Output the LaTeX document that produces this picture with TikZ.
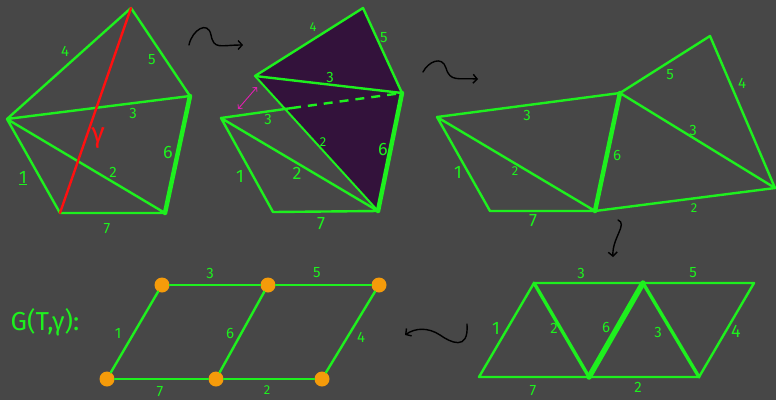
\documentclass[tikz,border=0pt]{standalone}
\usepackage{fontspec}
\setmainfont{Fira Sans}
\usetikzlibrary{arrows.meta}
\definecolor{bg}{HTML}{474747}
\definecolor{grn}{HTML}{1EF01E}
\definecolor{purp}{HTML}{33123B}
\definecolor{org}{HTML}{F59B0A}
\definecolor{mag}{HTML}{E020B0}
\definecolor{redl}{HTML}{FF1010}
\begin{document}
\begin{tikzpicture}[x=1pt,y=-1pt,
  edge/.style={draw=grn,line width=2.4pt,line join=round,line cap=round},
  thk/.style={edge,line width=4.5pt},
  mid/.style={edge,line width=3.4pt},
  lab/.style={text=grn,inner sep=0pt,font=\fontsize{15}{15}\selectfont},
  sml/.style={lab,font=\fontsize{13}{13}\selectfont},
  big/.style={lab,font=\fontsize{18}{18}\selectfont},
  vtx/.style={circle,fill=org,minimum size=15pt,inner sep=0pt},
  squig/.style={draw=black,line width=1.4pt,line cap=round,-{Straight Barb[length=4pt,width=9pt,line width=1.4pt]}}]
\fill[bg] (0,0) rectangle (776,400);
\useasboundingbox (0,0) rectangle (776,400);

% ---------- panel 1 ----------
\coordinate (a1) at (131,8);
\coordinate (b1) at (190,96);
\coordinate (l1) at (7,119);
\coordinate (p1) at (60,213);
\coordinate (q1) at (165,213);
\draw[edge] (l1) -- (a1) -- (b1) -- (l1) -- (q1) -- (p1) -- (l1);
\draw[thk] (q1) -- (b1);
\draw[draw=redl,line width=2.4pt,line cap=round] (a1) -- (p1);
\node[text=redl,inner sep=0pt,font=\fontsize{28}{28}\selectfont] (g1lab) at (98,138) {γ};
\node[lab] (l1a) at (65,51) {4};
\node[lab] (l1b) at (152,60) {5};
\node[lab] (l1c) at (133,113) {3};
\node[big] (l1d) at (168,152) {6};
\node[lab] (l1e) at (113,172) {2};
\node[big] (l1f) at (23,178) {\underline{1}};
\node[lab] (l1g) at (107,229) {7};

% ---------- panel 2 ----------
\coordinate (t2) at (363,8);
\coordinate (r2) at (402,93);
\coordinate (u2) at (255,76);
\coordinate (w2) at (221,118);
\coordinate (p2) at (273,212);
\coordinate (q2) at (378,211);
\coordinate (s2) at (292,108);
\fill[purp] (u2) -- (t2) -- (r2) -- (q2) -- cycle;
\draw[edge] (u2) -- (t2) -- (r2) -- (u2);
\draw[edge,line width=2pt] (u2) -- (q2);
\draw[thk] (r2) -- (q2);
\draw[edge] (w2) -- (p2) -- (q2) -- (w2);
\draw[edge] (w2) -- (s2);
\draw[edge,dash pattern=on 9pt off 7pt,line cap=butt] (s2) -- (r2);
\coordinate (m2a) at (238,109);
\coordinate (m2b) at (257,87);
\draw[draw=mag,line width=0.9pt,{Straight Barb[length=3pt,width=6pt]}-{Straight Barb[length=3pt,width=6pt]}] (m2a) -- (m2b);
\node[sml] (l2a) at (313,27) {4};
\node[lab] (l2b) at (384,38) {5};
\node[lab] (l2c) at (330,77) {3};
\node[lab] (l2d) at (268,119) {3};
\node[sml] (l2e) at (323,142) {2};
\node[big] (l2f) at (383,149) {6};
\node[big] (l2g) at (240,176) {1};
\node[big] (l2h) at (297,173) {2};
\node[big] (l2i) at (321,224) {7};

% ---------- panel 3 ----------
\coordinate (l3) at (437,117);
\coordinate (m3) at (620,93);
\coordinate (t3) at (710,36);
\coordinate (r3) at (775,188);
\coordinate (q3) at (595,211);
\coordinate (p3) at (490,211);
\draw[edge] (l3) -- (m3) -- (t3) -- (r3) -- (q3) -- (p3) -- (l3) -- (q3);
\draw[edge] (m3) -- (r3);
\draw[thk] (q3) -- (m3);
\node[lab] (l3a) at (527,115) {3};
\node[big] (l3b) at (458,172) {1};
\node[sml] (l3c) at (515,171) {2};
\node[big] (l3d) at (533,221) {7};
\node[lab] (l3e) at (617,155) {6};
\node[lab] (l3f) at (670,75) {5};
\node[lab] (l3g) at (742,83) {4};
\node[lab] (l3h) at (693,130) {3};
\node[sml] (l3i) at (694,208) {2};

% ---------- panel 4 ----------
\coordinate (a4) at (534,283);
\coordinate (b4) at (643,283);
\coordinate (c4) at (754,283);
\coordinate (d4) at (479,377);
\coordinate (e4) at (589,377);
\coordinate (f4) at (699,377);
\draw[edge] (a4) -- (c4) -- (f4) -- (d4) -- (a4);
\draw[mid] (a4) -- (e4);
\draw[mid] (b4) -- (f4);
\draw[thk,line width=5.5pt] (e4) -- (b4);
\node[lab] (l4a) at (581,273) {3};
\node[lab] (l4b) at (693,273) {5};
\node[big] (l4c) at (496,328) {1};
\node[lab] (l4d) at (554,328) {2};
\node[lab] (l4e) at (606,327) {6};
\node[lab] (l4f) at (658,332) {3};
\node[big] (l4g) at (736,331) {4};
\node[lab] (l4h) at (533,391) {7};
\node[lab] (l4i) at (638,387) {2};

% ---------- graph ----------
\node[vtx] (g1) at (162,285) {};
\node[vtx] (g2) at (268,285) {};
\node[vtx] (g3) at (379,285) {};
\node[vtx] (g4) at (107,379) {};
\node[vtx] (g5) at (216,379) {};
\node[vtx] (g6) at (322,379) {};
\draw[edge] (g1) -- (g2);
\draw[edge] (g2) -- (g3);
\draw[edge] (g4) -- (g5);
\draw[edge] (g5) -- (g6);
\draw[edge] (g4) -- (g1);
\draw[edge] (g5) -- (g2);
\draw[edge] (g6) -- (g3);
\node[lab] (l5a) at (210,273) {3};
\node[lab] (l5b) at (317,273) {5};
\node[lab] (l5c) at (118,333) {1};
\node[lab] (l5d) at (230,333) {6};
\node[lab] (l5e) at (361,337) {4};
\node[lab] (l5f) at (160,392) {7};
\node[sml] (l5g) at (267,390) {2};
\node[text=grn,inner sep=0pt,font=\fontsize{26}{26}\selectfont] (gt) at (45,322) {G(T,γ):};

% ---------- squiggle arrows ----------
\coordinate (s1a) at (189,45);
\coordinate (s1b) at (243,45);
\draw[squig] (s1a) .. controls (192,30) and (208,20) .. (211,35)
  .. controls (214,50) and (220,45) .. (s1b);
\coordinate (s2a) at (423,72);
\coordinate (s2b) at (478,79);
\draw[squig] (s2a) .. controls (428,62) and (442,55) .. (446,68)
  .. controls (450,82) and (458,78) .. (s2b);
\coordinate (s3a) at (618,220);
\coordinate (s3b) at (613,257);
\draw[squig] (s3a) .. controls (628,224) and (612,238) .. (s3b);
\coordinate (s4a) at (467,324);
\coordinate (s4b) at (405,335);
\draw[squig] (s4a) .. controls (469,352) and (450,342) .. (440,335)
  .. controls (428,327) and (415,328) .. (s4b);
\end{tikzpicture}
\end{document}
